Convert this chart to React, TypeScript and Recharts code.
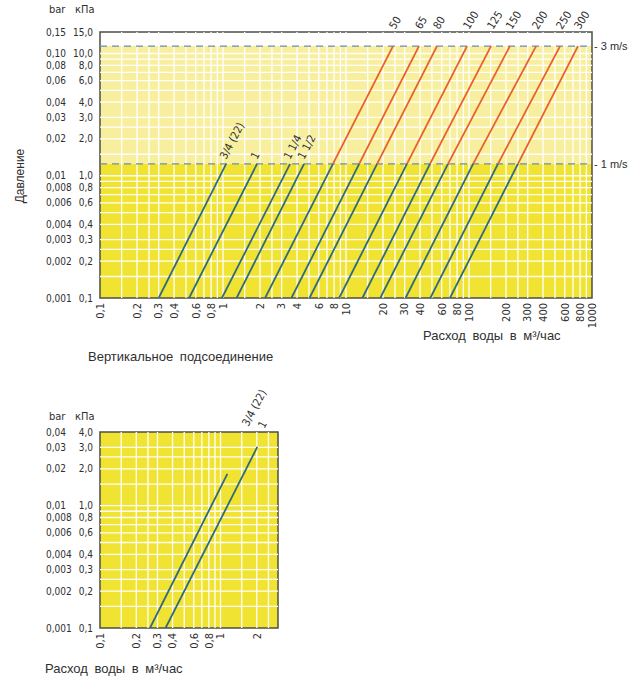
import React from 'react';
import { LineChart, Line, XAxis, YAxis, ReferenceArea, ReferenceLine, LabelList } from 'recharts';

const FONT = "'Liberation Sans', Arial, sans-serif";
const FONT_NARROW = "'Liberation Sans Narrow', 'DejaVu Sans Condensed', 'Arial Narrow', sans-serif";

// ---------- upper chart data ----------
const upperXTicks = [0.1, 0.2, 0.3, 0.4, 0.6, 0.8, 1, 2, 3, 4, 6, 8, 10, 20, 30, 40, 60, 80, 100, 200, 300, 400, 600, 800, 1000];
const upperXLabels = ['0,1', '0,2', '0,3', '0,4', '0,6', '0,8', '1', '2', '3', '4', '6', '8', '10', '20', '30', '40', '60', '80', '100', '200', '300', '400', '600', '800', '1000'];
const upperYTicks = [0.1, 0.2, 0.3, 0.4, 0.6, 0.8, 1, 2, 3, 4, 6, 8, 10, 15];
const upperBarLabels = ['0,001', '0,002', '0,003', '0,004', '0,006', '0,008', '0,01', '0,02', '0,03', '0,04', '0,06', '0,08', '0,10', '0,15'];
const upperKpaLabels = ['0,1', '0,2', '0,3', '0,4', '0,6', '0,8', '1,0', '2,0', '3,0', '4,0', '6,0', '8,0', '10,0', '15,0'];

const P_MIN = 0.1;      // kPa at bottom of chart
const P_1MS = 1.25;     // kPa at 1 m/s line
const P_3MS = 11.5;     // kPa at 3 m/s line

const smallPipes = ['3/4 (22)', '1', '1 1/4', '1 1/2'];
const smallQBottom = [0.3, 0.53, 0.98, 1.29];
const smallQ1ms = [1.06, 1.89, 3.51, 4.56];

const dnPipes = ['50', '65', '80', '100', '125', '150', '200', '250', '300'];
const dnQBottom = [2.2, 3.6, 5.05, 8.8, 13.6, 19, 30.5, 48.5, 70];
const dnQ1ms = [7.83, 12.8, 17.9, 31.3, 48.2, 67.5, 108, 172, 250];
const dnQ3ms = [24.1, 39.2, 54.9, 96.4, 151, 215, 351, 550, 769];

// ---------- lower chart data ----------
const lowerXTicks = [0.1, 0.2, 0.3, 0.4, 0.6, 0.8, 1, 2];
const lowerXLabels = ['0,1', '0,2', '0,3', '0,4', '0,6', '0,8', '1', '2'];
const lowerYTicks = [0.1, 0.2, 0.3, 0.4, 0.6, 0.8, 1, 2, 3, 4];
const lowerBarLabels = ['0,001', '0,002', '0,003', '0,004', '0,006', '0,008', '0,01', '0,02', '0,03', '0,04'];
const lowerKpaLabels = ['0,1', '0,2', '0,3', '0,4', '0,6', '0,8', '1,0', '2,0', '3,0', '4,0'];
const lowerQBottom = [0.26, 0.35];
const lowerQTop = [1.14, 2.02];
const lowerPTop = [1.82, 3.02];
const lowerLabels = ['3/4 (22)', '1'];

const gridMultipliers = [1, 1.5, 2, 2.5, 3, 4, 5, 6, 7, 8, 9];
function buildGrid(decades: number[], min: number, max: number) {
  const out: number[] = [];
  decades.forEach((d) => gridMultipliers.forEach((m) => {
    const v = d * m;
    if (v > min * 1.0001 && v < max * 0.9999) out.push(v);
  }));
  return out;
}

const upperGridX = buildGrid([0.1, 1, 10, 100], 0.1, 1000);
const upperGridY = buildGrid([0.1, 1, 10], 0.1, 15);
const lowerGridX = buildGrid([0.1, 1], 0.1, 3);
const lowerGridY = buildGrid([0.1, 1], 0.1, 4);

const YELLOW = '#f1e331';
const LIGHT_YELLOW = '#f8ef9e';
const TEAL = '#2f6a7f';
const ORANGE = '#e8602b';
const DASH = '#6a8cc0';
const TEXT = '#2f2f2f';

function makeXTick(values: number[], labels: string[]) {
  return (props: any) => {
    const { x, y, payload } = props;
    const i = values.findIndex((v) => Math.abs(v - payload.value) < 1e-9);
    const ty = y + 5;
    return (
      <text x={x} y={ty} dy={3.8} transform={`rotate(-90 ${x} ${ty})`} textAnchor="end"
        fontSize={11} fontFamily={FONT_NARROW} fill={TEXT}>{i >= 0 ? labels[i] : ''}</text>
    );
  };
}

function makeYTick(values: number[], bar: string[], kpa: string[]) {
  return (props: any) => {
    const { x, y, payload } = props;
    const i = values.findIndex((v) => Math.abs(v - payload.value) < 1e-9);
    if (i < 0) return null;
    return (
      <g>
        <text x={x - 54} y={y} dy={3.5} textAnchor="start" fontSize={10} fontFamily={FONT_NARROW} fill={TEXT}>{bar[i]}</text>
        <text x={x - 7} y={y} dy={3.5} textAnchor="end" fontSize={10} fontFamily={FONT_NARROW} fill={TEXT}>{kpa[i]}</text>
      </g>
    );
  };
}

function endText(text: string, dx: number, dy: number, angle: number, last: number) {
  return (props: any) => {
    const { x, y, index } = props;
    if (index !== last || x == null) return null;
    const tx = x + dx;
    const ty = y + dy;
    return (
      <text x={tx} y={ty} transform={`rotate(${angle} ${tx} ${ty})`} textAnchor="start"
        fontSize={11} fontFamily={FONT_NARROW} fill={TEXT}>{text}</text>
    );
  };
}

function speedLabel(text: string) {
  return (props: any) => {
    const vb = props.viewBox || {};
    const x = (vb.x || 0) + (vb.width || 0) + 2;
    const y = vb.y || 0;
    return (
      <text x={x} y={y} dy={4} fontSize={11} fontFamily={FONT} fill={TEXT}>{text}</text>
    );
  };
}

export default function App() {
  return (
    <div style={{ position: 'absolute', left: 0, top: 0, width: 640, height: 690, background: '#fff', fontFamily: FONT, color: TEXT }}>
      {/* upper chart */}
      <div style={{ position: 'absolute', left: 0, top: 0 }}>
        <LineChart width={640} height={345} margin={{ top: 32, right: 48, bottom: 17, left: 40 }}>
          <XAxis dataKey="q" type="number" scale="log" domain={[0.1, 1000]} allowDataOverflow
            ticks={upperXTicks} interval={0} tick={makeXTick(upperXTicks, upperXLabels)}
            tickLine={false} axisLine={false} tickSize={0} tickMargin={0} height={30} />
          <YAxis type="number" scale="log" domain={[0.1, 15]} allowDataOverflow
            ticks={upperYTicks} interval={0} tick={makeYTick(upperYTicks, upperBarLabels, upperKpaLabels)}
            tickLine={false} axisLine={false} tickSize={0} tickMargin={0} width={60} />
          <ReferenceArea x1={0.1} x2={1000} y1={P_MIN} y2={P_1MS} fill={YELLOW} fillOpacity={1} stroke="none" />
          <ReferenceArea x1={0.1} x2={1000} y1={P_1MS} y2={P_3MS} fill={LIGHT_YELLOW} fillOpacity={1} stroke="none" />
          <ReferenceArea x1={0.1} x2={1000} y1={P_3MS} y2={15} fill="#ffffff" fillOpacity={1} stroke="none" />
          {upperGridX.map((v) => (
            <ReferenceLine key={'gx' + v} x={v} stroke="#ffffff" strokeWidth={1.3} />
          ))}
          {upperGridY.filter((v) => v < P_3MS).map((v) => (
            <ReferenceLine key={'gy' + v} y={v} stroke="#ffffff" strokeWidth={1.3} />
          ))}
          <ReferenceLine y={P_1MS} stroke={DASH} strokeWidth={1.4} strokeDasharray="7 5" label={speedLabel('- 1 m/s')} />
          <ReferenceLine y={P_3MS} stroke={DASH} strokeWidth={1.4} strokeDasharray="7 5" label={speedLabel('- 3 m/s')} />
          {smallPipes.map((name, i) => (
            <Line key={'s' + name} data={[{ q: smallQBottom[i], p: P_MIN }, { q: smallQ1ms[i], p: P_1MS }]}
              dataKey="p" stroke={TEAL} strokeWidth={1.8} dot={false} activeDot={false} isAnimationActive={false}>
              <LabelList dataKey="p" content={endText(name, 0, -4, -62, 1)} />
            </Line>
          ))}
          {dnPipes.map((name, i) => (
            <Line key={'dl' + name} data={[{ q: dnQBottom[i], p: P_MIN }, { q: dnQ1ms[i], p: P_1MS }]}
              dataKey="p" stroke={TEAL} strokeWidth={1.8} dot={false} activeDot={false} isAnimationActive={false} />
          ))}
          {dnPipes.map((name, i) => (
            <Line key={'du' + name} data={[{ q: dnQ1ms[i], p: P_1MS }, { q: dnQ3ms[i], p: P_3MS }]}
              dataKey="p" stroke={ORANGE} strokeWidth={1.8} dot={false} activeDot={false} isAnimationActive={false}>
              <LabelList dataKey="p" content={endText(name, 2, -16, -58, 1)} />
            </Line>
          ))}
          <ReferenceArea x1={0.1} x2={1000} y1={0.1} y2={15} fill="none" fillOpacity={0} stroke="#4d4d47" strokeWidth={1.5} />
        </LineChart>
      </div>

      {/* upper texts */}
      <div style={{ position: 'absolute', left: 49, top: 3, fontSize: 11, fontFamily: FONT_NARROW }}>bar</div>
      <div style={{ position: 'absolute', left: 75, top: 3, fontSize: 11, fontFamily: FONT_NARROW }}>кПа</div>
      <div style={{ position: 'absolute', left: 20, top: 176, fontSize: 12, whiteSpace: 'nowrap', transform: 'translate(-50%, -50%) rotate(-90deg)' }}>Давление</div>
      <div style={{ position: 'absolute', left: 423, top: 328, fontSize: 13, whiteSpace: 'nowrap', wordSpacing: 3 }}>Расход воды в м³/час</div>
      <div style={{ position: 'absolute', left: 88, top: 349, fontSize: 13, whiteSpace: 'nowrap', wordSpacing: 3 }}>Вертикальное подсоединение</div>

      {/* lower chart */}
      <div style={{ position: 'absolute', left: 0, top: 380 }}>
        <LineChart width={640} height={310} margin={{ top: 52, right: 362, bottom: 32, left: 40 }}>
          <XAxis dataKey="q" type="number" scale="log" domain={[0.1, 3]} allowDataOverflow
            ticks={lowerXTicks} interval={0} tick={makeXTick(lowerXTicks, lowerXLabels)}
            tickLine={false} axisLine={false} tickSize={0} tickMargin={0} height={30} />
          <YAxis type="number" scale="log" domain={[0.1, 4]} allowDataOverflow
            ticks={lowerYTicks} interval={0} tick={makeYTick(lowerYTicks, lowerBarLabels, lowerKpaLabels)}
            tickLine={false} axisLine={false} tickSize={0} tickMargin={0} width={60} />
          <ReferenceArea x1={0.1} x2={3} y1={0.1} y2={4} fill={YELLOW} fillOpacity={1} stroke="none" />
          {lowerGridX.map((v) => (
            <ReferenceLine key={'lgx' + v} x={v} stroke="#ffffff" strokeWidth={1.3} />
          ))}
          {lowerGridY.map((v) => (
            <ReferenceLine key={'lgy' + v} y={v} stroke="#ffffff" strokeWidth={1.3} />
          ))}
          <Line data={[{ q: lowerQBottom[0], p: P_MIN }, { q: lowerQTop[0], p: lowerPTop[0] }]}
            dataKey="p" stroke={TEAL} strokeWidth={1.8} dot={false} activeDot={false} isAnimationActive={false} />
          <Line data={[{ q: lowerQBottom[1], p: P_MIN }, { q: lowerQTop[1], p: lowerPTop[1] }]}
            dataKey="p" stroke={TEAL} strokeWidth={1.8} dot={false} activeDot={false} isAnimationActive={false}>
            <LabelList dataKey="p" content={endText(lowerLabels[0], -9, -20, -62, 1)} />
            <LabelList dataKey="p" content={endText(lowerLabels[1], 7, -18, -62, 1)} />
          </Line>
          <ReferenceArea x1={0.1} x2={3} y1={0.1} y2={4} fill="none" fillOpacity={0} stroke="#4d4d47" strokeWidth={1.5} />
        </LineChart>
      </div>

      {/* lower texts */}
      <div style={{ position: 'absolute', left: 49, top: 410, fontSize: 11, fontFamily: FONT_NARROW }}>bar</div>
      <div style={{ position: 'absolute', left: 75, top: 410, fontSize: 11, fontFamily: FONT_NARROW }}>кПа</div>
      <div style={{ position: 'absolute', left: 45, top: 661, fontSize: 13, whiteSpace: 'nowrap', wordSpacing: 3 }}>Расход воды в м³/час</div>
    </div>
  );
}
